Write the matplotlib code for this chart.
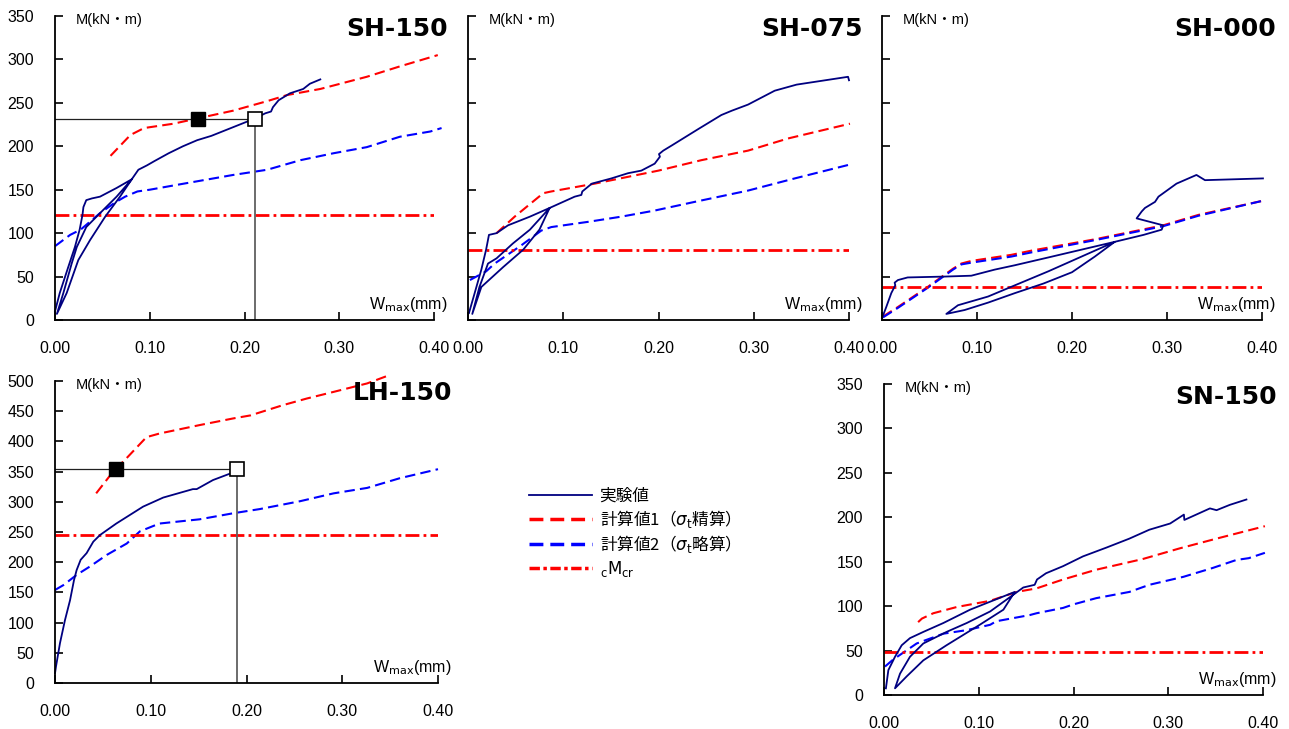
import matplotlib
matplotlib.use("Agg")
import matplotlib.pyplot as plt
from matplotlib.lines import Line2D

plt.rcParams['font.family'] = ['Liberation Sans', 'Noto Sans CJK JP', 'DejaVu Sans']

# ---- SH-150 ----
sh150_exp_w = [0.000, 0.005, 0.014, 0.021, 0.026, 0.029, 0.030, 0.033, 0.039, 0.0475, 0.065, 0.081,
               0.0686, 0.053, 0.037, 0.0246, 0.0123, 0.002,
               0.0088, 0.0176, 0.023, 0.033, 0.0475, 0.065, 0.081,
               0.088, 0.097, 0.105, 0.120, 0.135, 0.150, 0.165, 0.188, 0.211, 0.222, 0.228, 0.230,
               0.236, 0.248, 0.262, 0.269, 0.280]
sh150_exp_m = [10, 31, 61, 84, 104, 121, 130, 138, 140, 142, 152, 162,
               142, 119, 92, 69, 31, 7,
               31, 65, 84, 107, 123, 142, 162,
               173, 178, 183, 192, 200, 207, 212, 222, 232, 238, 240, 245,
               253, 261, 266, 272, 277]
sh150_c1_w = [0.0586, 0.0796, 0.094, 0.125, 0.150, 0.188, 0.224, 0.245, 0.280, 0.329, 0.364, 0.404]
sh150_c1_m = [189, 213, 221, 226, 232, 241, 252, 259, 266, 280, 292, 305]
sh150_c2_w = [0.0, 0.016, 0.027, 0.0475, 0.063, 0.074, 0.087, 0.10, 0.136, 0.188, 0.224, 0.259,
              0.294, 0.329, 0.364, 0.396, 0.408]
sh150_c2_m = [85, 98, 104, 123, 135, 142, 148, 150, 157, 167, 173, 184, 192, 199, 211, 217, 221]
sh150_mcr = 121
sh150_marks_w = [0.1505, 0.211]
sh150_marks_m = 231

# ---- SH-075 ----
sh075_exp_w = [0.001, 0.007, 0.014, 0.019, 0.022, 0.030, 0.042, 0.065, 0.0857,
               0.075, 0.058, 0.037, 0.014, 0.0045,
               0.012, 0.021, 0.030, 0.047, 0.065, 0.0857,
               0.112, 0.119, 0.120, 0.130, 0.1505, 0.168, 0.182, 0.196, 0.2015, 0.2005, 0.205,
               0.214, 0.242, 0.266, 0.277, 0.294, 0.322, 0.345, 0.399, 0.400]
sh075_exp_m = [8, 31, 58, 81, 98, 100, 109, 119, 129,
               104, 81, 61, 38, 7,
               38, 65, 71, 88, 104, 129,
               142, 144, 148, 157, 163, 169, 172, 180, 188, 191, 195,
               201, 220, 236, 241, 248, 264, 271, 280, 276]
sh075_c1_w = [0.030, 0.049, 0.079, 0.0875, 0.133, 0.2, 0.245, 0.294, 0.336, 0.401]
sh075_c1_m = [100, 119, 146, 148, 157, 172, 184, 195, 209, 226]
sh075_c2_w = [0.002, 0.019, 0.028, 0.056, 0.077, 0.0875, 0.126, 0.161, 0.196, 0.238, 0.294, 0.343, 0.401]
sh075_c2_m = [46, 56, 65, 86, 103, 107, 113, 119, 126, 136, 149, 163, 179]
sh075_mcr = 81

# ---- SH-000 ----
sh000_exp_w = [0.0, 0.0045, 0.0098, 0.014, 0.0133, 0.0168, 0.027, 0.066, 0.094, 0.1186, 0.1397,
               0.175, 0.21, 0.245,
               0.21, 0.175, 0.14, 0.1116, 0.08, 0.0677,
               0.087, 0.1116, 0.14, 0.17, 0.2, 0.224, 0.245,
               0.2753, 0.2944, 0.296, 0.268, 0.2734, 0.2768, 0.2874, 0.291, 0.31, 0.331, 0.34, 0.401]
sh000_exp_m = [2, 15, 31, 40, 43, 46, 49, 50, 51, 58, 63,
               72, 81, 90,
               73, 56, 40, 27, 17, 7,
               11.5, 20, 31, 42, 55, 73, 90,
               98, 104, 109, 117, 125, 129, 136, 142, 157, 167, 161, 163]
sh000_c1_w = [0.001, 0.0168, 0.048, 0.0747, 0.0835, 0.094, 0.136, 0.158, 0.2245, 0.296, 0.333, 0.3997]
sh000_c1_m = [4, 15, 38, 59, 65, 68, 75, 80, 93, 109, 121, 137]
sh000_c2_w = [0.001, 0.0168, 0.048, 0.0747, 0.0835, 0.094, 0.136, 0.158, 0.2245, 0.296, 0.333, 0.3997]
sh000_c2_m = [3, 14, 37, 58, 64, 66, 73, 78, 92, 108, 120, 137]
sh000_mcr = 38

# ---- LH-150 ----
lh150_exp_w = [0.0, 0.001, 0.0052, 0.0104, 0.0157, 0.0198, 0.0226, 0.0268, 0.033, 0.040, 0.047,
               0.064, 0.092, 0.113, 0.144, 0.148, 0.165, 0.190]
lh150_exp_m = [16, 27, 66, 104, 137, 170, 187, 204, 215, 234, 245, 264, 292, 307, 321, 321, 336, 351]
lh150_c1_w = [0.043, 0.0607, 0.0746, 0.0955, 0.109, 0.151, 0.186, 0.204, 0.238, 0.263, 0.291, 0.326, 0.348]
lh150_c1_m = [314, 350, 372, 407, 413, 427, 438, 443, 460, 471, 482, 496, 509]
lh150_c2_w = [0.0, 0.0087, 0.0226, 0.0366, 0.054, 0.075, 0.0886, 0.109, 0.151, 0.186, 0.214, 0.256,
              0.291, 0.326, 0.36, 0.40]
lh150_c2_m = [154, 162, 179, 193, 212, 231, 251, 264, 271, 281, 288, 301, 314, 323, 339, 354]
lh150_mcr = 245
lh150_marks_w = [0.0635, 0.190]
lh150_marks_m = 354

# ---- SN-150 ----
sn150_exp_w = [0.002, 0.0046, 0.0116, 0.0187, 0.0274, 0.0415, 0.0626, 0.0908, 0.112, 0.138,
               0.126, 0.101, 0.066, 0.0415, 0.024, 0.0116,
               0.0169, 0.0274, 0.0415, 0.066, 0.0873, 0.112, 0.138,
               0.147, 0.159, 0.1615, 0.171, 0.189, 0.21, 0.235, 0.259, 0.28, 0.302, 0.3165, 0.317,
               0.344, 0.351, 0.365, 0.3825]
sn150_exp_m = [7.5, 28, 43, 56, 64, 71, 81, 96, 105, 116,
               96, 79, 56, 39, 21, 7.5,
               24, 43, 58, 71, 81, 94, 114,
               121, 124, 130, 137, 145, 156, 166, 176, 186, 193, 203, 197,
               210, 208, 214, 220]
sn150_c1_w = [0.036, 0.040, 0.052, 0.0767, 0.112, 0.14, 0.161, 0.189, 0.224, 0.273, 0.312, 0.351, 0.402]
sn150_c1_m = [82, 86, 92, 99, 106, 116, 120, 130, 141, 153, 165, 176, 190]
sn150_c2_w = [0.001, 0.0098, 0.0345, 0.0626, 0.0873, 0.112, 0.1185, 0.154, 0.161, 0.189, 0.20, 0.224,
              0.259, 0.28, 0.316, 0.347, 0.372, 0.385, 0.402]
sn150_c2_m = [32, 40, 58, 69, 73, 79, 83, 90, 92, 98, 102, 109, 116, 124, 133, 143, 152, 154, 160]
sn150_mcr = 48

x_ticks = [0.0, 0.1, 0.2, 0.3, 0.4]
legend_labels = ['実験値', '計算値1（$\\sigma_{\\rm t}$精算）', '計算値2（$\\sigma_{\\rm t}$略算）',
                 '${}_{\\rm c}{\\rm M}_{\\rm cr}$']

NAVY = '#000080'
RED = '#ff0000'
BLUE = '#0000ff'

W, H = 1289, 729
fig = plt.figure(figsize=(W / 100, H / 100), dpi=100)


def rect(l, r, t, b):
    return [l / W, 1 - b / H, (r - l) / W, (b - t) / H]


def panel(box, name, ymax, ew, em, c1w, c1m, c2w, c2m, mcr, ylabels=True, marks_w=None, marks_m=None):
    ax = fig.add_axes(rect(*box))
    ax.plot(c1w, c1m, color=RED, lw=1.5, dashes=(5, 2.5), clip_on=False)
    ax.plot(c2w, c2m, color=BLUE, lw=1.5, dashes=(5, 2.5), clip_on=False)
    ax.plot([0, 0.4], [mcr, mcr], color=RED, lw=2, dashes=(5, 1.5, 1, 1.5))
    ax.plot(ew, em, color=NAVY, lw=1.3, clip_on=False)
    if marks_w is not None:
        ax.plot([0, marks_w[1]], [marks_m, marks_m], color='#202020', lw=0.9)
        ax.plot([marks_w[1], marks_w[1]], [0, marks_m], color='#606060', lw=1.3)
        ax.plot(marks_w[0], marks_m, 's', color='black', ms=10, zorder=5)
        ax.plot(marks_w[1], marks_m, 's', mfc='white', mec='black', mew=1.2, ms=10, zorder=5)
    ax.set_xlim(0, 0.4)
    ax.set_ylim(0, ymax)
    ax.spines['top'].set_visible(False)
    ax.spines['right'].set_visible(False)
    for s in ('left', 'bottom'):
        ax.spines[s].set_linewidth(1.3)
    ax.set_xticks(x_ticks)
    ax.set_xticklabels(['%.2f' % v for v in x_ticks])
    ax.set_yticks(range(0, ymax + 1, 50))
    ax.tick_params(direction='in', length=6, width=1.2, labelsize=11.5, pad=15)
    if not ylabels:
        ax.tick_params(axis='y', labelleft=False)
    ax.annotate(name, xy=(1, 1), xycoords='axes fraction', xytext=(10, -9),
                textcoords='offset points', ha='right', va='center',
                fontsize=18, fontweight='bold', family='DejaVu Sans')
    ax.annotate('M(kN・m)', xy=(0, 1), xycoords='axes fraction', xytext=(15, -3),
                textcoords='offset points', ha='left', va='center', fontsize=10.5)
    ax.annotate('W$_{\\rm max}$(mm)', xy=(1, 0), xycoords='axes fraction', xytext=(10, 11),
                textcoords='offset points', ha='right', va='center', fontsize=11.5)
    return ax


panel((55, 434, 16, 320), 'SH-150', 350, sh150_exp_w, sh150_exp_m, sh150_c1_w, sh150_c1_m,
      sh150_c2_w, sh150_c2_m, sh150_mcr, marks_w=sh150_marks_w, marks_m=sh150_marks_m)
panel((468, 849, 16, 320), 'SH-075', 350, sh075_exp_w, sh075_exp_m, sh075_c1_w, sh075_c1_m,
      sh075_c2_w, sh075_c2_m, sh075_mcr, ylabels=False)
panel((882, 1262, 16, 320), 'SH-000', 350, sh000_exp_w, sh000_exp_m, sh000_c1_w, sh000_c1_m,
      sh000_c2_w, sh000_c2_m, sh000_mcr, ylabels=False)
panel((55, 438, 381, 683), 'LH-150', 500, lh150_exp_w, lh150_exp_m, lh150_c1_w, lh150_c1_m,
      lh150_c2_w, lh150_c2_m, lh150_mcr, marks_w=lh150_marks_w, marks_m=lh150_marks_m)
panel((884, 1263, 384, 695), 'SN-150', 350, sn150_exp_w, sn150_exp_m, sn150_c1_w, sn150_c1_m,
      sn150_c2_w, sn150_c2_m, sn150_mcr)

handles = [Line2D([], [], color=NAVY, lw=1.3),
           Line2D([], [], color=RED, lw=2.5, dashes=(4, 2)),
           Line2D([], [], color=BLUE, lw=2.5, dashes=(4, 2)),
           Line2D([], [], color=RED, lw=2.5, dashes=(3, 1, 1, 1))]
fig.legend(handles, legend_labels, loc='upper left', bbox_to_anchor=(522 / W, 1 - 481 / H),
           frameon=False, prop={'family': 'Noto Sans CJK JP', 'size': 12},
           handlelength=3.8, handletextpad=0.45, labelspacing=0.2, borderaxespad=0)

fig.savefig('out.png', dpi=100, facecolor='white')
